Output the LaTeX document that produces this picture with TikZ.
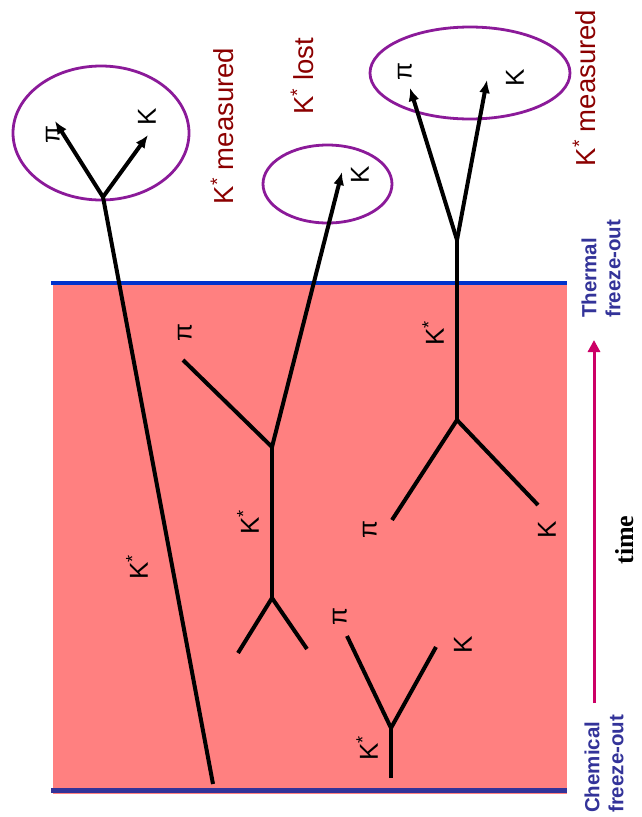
\documentclass[tikz,border=0pt]{standalone}
\usepackage{fontspec}
\setmainfont{Liberation Sans}
\newfontfamily\timesfont{Liberation Serif}
\usetikzlibrary{arrows.meta}
\definecolor{pinkbg}{HTML}{FF8080}
\definecolor{thermblue}{HTML}{0033CC}
\definecolor{chemblue}{HTML}{333399}
\definecolor{ellpurple}{HTML}{8B1A99}
\definecolor{darkred}{HTML}{8B0000}
\definecolor{timemag}{HTML}{CC0066}
\tikzset{
  track/.style={line width=4pt, black, line cap=butt},
  trackarrow/.style={track, -{Latex[length=13pt,width=11pt]}},
  ell/.style={draw=ellpurple, line width=2.8pt},
  lbl/.style={rotate=90, font=\fontsize{26}{30}\selectfont, inner sep=0pt, black},
  status/.style={rotate=90, font=\fontsize{27.5}{31}\selectfont, inner sep=0pt, text=darkred},
  freeze/.style={rotate=90, font=\fontsize{20.5}{24}\selectfont\bfseries, inner sep=0pt, text=chemblue, align=left},
}
\begin{document}
\begin{tikzpicture}[x=1pt,y=-1pt]
\useasboundingbox (0,0) rectangle (642,817);
% background region
\fill[pinkbg] (53,284) rectangle (567,794);
\coordinate (tl) at (51,283);
\coordinate (tr) at (567,283);
\coordinate (bl) at (51,790);
\coordinate (br) at (567,790);
\draw[thermblue, line width=4pt] (tl) -- (tr);
\draw[chemblue, line width=5pt] (bl) -- (br);

% ellipses
\draw[ell] (101,133) ellipse [x radius=88, y radius=67];
\draw[ell] (327.5,184) ellipse [x radius=64.5, y radius=39];
\draw[ell] (470,73) ellipse [x radius=100, y radius=46];

% track 1 (long K*)
\coordinate (a0) at (213,784);
\coordinate (a1) at (103,197);
\coordinate (api) at (55,121);
\coordinate (ak) at (148,135);
\draw[track] (a0) -- (a1);
\draw[trackarrow] (a1) -- (api);
\draw[trackarrow] (a1) -- (ak);

% track 2 (middle)
\coordinate (b0) at (238,653);
\coordinate (b1) at (307,649);
\coordinate (b2) at (272,598);
\coordinate (b3) at (272,447);
\coordinate (bpi) at (183,360);
\coordinate (bk) at (342,172);
\draw[track] (b0) -- (b2) -- (b1);
\draw[track] (b2) -- (b3);
\draw[track] (bpi) -- (b3);
\draw[trackarrow] (b3) -- (bk);

% track 3 (right)
\coordinate (c0) at (392,520);
\coordinate (c1) at (538,505);
\coordinate (c2) at (457,420);
\coordinate (c3) at (457,240);
\coordinate (cpi) at (410,88);
\coordinate (ck) at (487,80);
\draw[track] (c0) -- (c2) -- (c1);
\draw[track] (c2) -- (c3);
\draw[trackarrow] (c3) -- (cpi);
\draw[trackarrow] (c3) -- (ck);

% track 4 (lower)
\coordinate (d0) at (391,778);
\coordinate (d1) at (391,728);
\coordinate (dpi) at (347,636);
\coordinate (dk) at (436,647);
\draw[track] (d0) -- (d1);
\draw[track] (dpi) -- (d1) -- (dk);

% labels
\node[lbl] (l1) at (53,135) {π};
\node[lbl] (l2) at (147,117) {K};
\node[lbl] (l3) at (360,175) {K};
\node[lbl] (l4) at (405,72) {π};
\node[lbl] (l5) at (515,78) {K};
\node[lbl] (l6) at (185,333) {π};
\node[lbl] (l7) at (248,522) {K\textsuperscript{*}};
\node[lbl] (l8) at (137,567) {K\textsuperscript{*}};
\node[lbl] (l9) at (433,333) {K\textsuperscript{*}};
\node[lbl] (l10) at (370,530) {π};
\node[lbl] (l11) at (547,530) {K};
\node[lbl] (l12) at (340,617) {π};
\node[lbl] (l13) at (463,645) {K};
\node[lbl] (l14) at (367,748) {K\textsuperscript{*}};

\node[status] (s1) at (222,126) {K\textsuperscript{*} measured};
\node[status] (s2) at (302,76) {K\textsuperscript{*} lost};
\node[status] (s3) at (584,88) {K\textsuperscript{*} measured};

% right side
\node[freeze, anchor=west] (th) at (601,318) {Thermal\\freeze-out};
\node[freeze, anchor=west] (ch) at (604,813) {Chemical\\freeze-out};
\coordinate (tb) at (594,703);
\coordinate (tt) at (594,340);
\draw[timemag, line width=3pt, -{Triangle[length=12pt,width=12pt]}] (tb) -- (tt);
\node[rotate=90, font=\timesfont\fontsize{26}{30}\selectfont\bfseries, inner sep=0pt] (time) at (625,540) {time};
\end{tikzpicture}
\end{document}
